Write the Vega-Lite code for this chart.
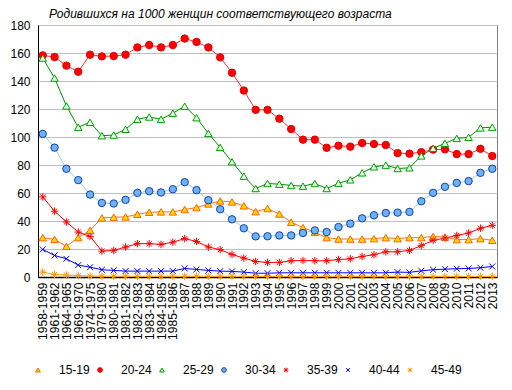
{
  "$schema": "https://vega.github.io/schema/vega-lite/v6.json",
  "width": 459,
  "height": 252,
  "autosize": {"type": "none"},
  "padding": {"left": 38, "top": 25, "right": 15, "bottom": 113},
  "background": "white",
  "title": {"text": "Родившихся на 1000 женщин соответствующего возраста", "anchor": "start", "frame": "group", "dx": 11, "offset": -2, "font": "Liberation Sans", "fontSize": 12, "fontStyle": "italic", "fontWeight": "normal", "color": "#000000"},
  "config": {
    "view": {"stroke": "#808080", "strokeWidth": 1},
    "font": "Liberation Sans",
    "axis": {"labelFont": "Liberation Sans", "labelColor": "#000000", "domainColor": "#000000", "ticks": false, "title": null},
    "legend": {"title": null, "orient": "none", "legendX": -6, "legendY": 339, "padding": 0, "direction": "horizontal", "columns": 7, "symbolSize": 22, "labelFontSize": 12, "labelFont": "Liberation Sans", "labelColor": "#000000", "labelOffset": 15, "columnPadding": 4, "symbolStrokeWidth": 1}
  },
  "datasets": {
    "rows": [
      {"period":"1958-1959","age":"15-19","value":28.1},{"period":"1961-1962","age":"15-19","value":26.9},{"period":"1964-1965","age":"15-19","value":21.9},{"period":"1969-1970","age":"15-19","value":28.1},{"period":"1974-1975","age":"15-19","value":33.3},{"period":"1979-1980","age":"15-19","value":42.2},{"period":"1980-1981","age":"15-19","value":42.7},{"period":"1981-1982","age":"15-19","value":42.9},{"period":"1982-1983","age":"15-19","value":44.8},{"period":"1983-1984","age":"15-19","value":46.2},{"period":"1984-1985","age":"15-19","value":46.5},{"period":"1985-1986","age":"15-19","value":46.5},{"period":"1987","age":"15-19","value":48.2},{"period":"1988","age":"15-19","value":49.6},{"period":"1989","age":"15-19","value":52.2},{"period":"1990","age":"15-19","value":54.3},{"period":"1991","age":"15-19","value":53.6},{"period":"1992","age":"15-19","value":50.8},{"period":"1993","age":"15-19","value":46.7},{"period":"1994","age":"15-19","value":48.9},{"period":"1995","age":"15-19","value":45.0},{"period":"1996","age":"15-19","value":39.1},{"period":"1997","age":"15-19","value":35.3},{"period":"1998","age":"15-19","value":32.0},{"period":"1999","age":"15-19","value":28.1},{"period":"2000","age":"15-19","value":27.1},{"period":"2001","age":"15-19","value":27.1},{"period":"2002","age":"15-19","value":27.1},{"period":"2003","age":"15-19","value":27.4},{"period":"2004","age":"15-19","value":28.1},{"period":"2005","age":"15-19","value":27.4},{"period":"2006","age":"15-19","value":28.1},{"period":"2007","age":"15-19","value":28.1},{"period":"2008","age":"15-19","value":29.0},{"period":"2009","age":"15-19","value":28.5},{"period":"2010","age":"15-19","value":26.7},{"period":"2011","age":"15-19","value":26.7},{"period":"2012","age":"15-19","value":27.4},{"period":"2013","age":"15-19","value":26.2},
      {"period":"1958-1959","age":"20-24","value":158.3},{"period":"1961-1962","age":"20-24","value":157.1},{"period":"1964-1965","age":"20-24","value":151.0},{"period":"1969-1970","age":"20-24","value":146.6},{"period":"1974-1975","age":"20-24","value":158.8},{"period":"1979-1980","age":"20-24","value":157.6},{"period":"1980-1981","age":"20-24","value":157.8},{"period":"1981-1982","age":"20-24","value":158.8},{"period":"1982-1983","age":"20-24","value":164.0},{"period":"1983-1984","age":"20-24","value":165.7},{"period":"1984-1985","age":"20-24","value":164.0},{"period":"1985-1986","age":"20-24","value":165.7},{"period":"1987","age":"20-24","value":170.3},{"period":"1988","age":"20-24","value":167.9},{"period":"1989","age":"20-24","value":164.0},{"period":"1990","age":"20-24","value":156.9},{"period":"1991","age":"20-24","value":145.9},{"period":"1992","age":"20-24","value":133.2},{"period":"1993","age":"20-24","value":119.4},{"period":"1994","age":"20-24","value":119.4},{"period":"1995","age":"20-24","value":113.1},{"period":"1996","age":"20-24","value":105.7},{"period":"1997","age":"20-24","value":98.1},{"period":"1998","age":"20-24","value":98.1},{"period":"1999","age":"20-24","value":92.3},{"period":"2000","age":"20-24","value":93.8},{"period":"2001","age":"20-24","value":93.1},{"period":"2002","age":"20-24","value":95.7},{"period":"2003","age":"20-24","value":95.0},{"period":"2004","age":"20-24","value":94.3},{"period":"2005","age":"20-24","value":88.5},{"period":"2006","age":"20-24","value":88.1},{"period":"2007","age":"20-24","value":89.2},{"period":"2008","age":"20-24","value":91.0},{"period":"2009","age":"20-24","value":91.2},{"period":"2010","age":"20-24","value":87.8},{"period":"2011","age":"20-24","value":87.8},{"period":"2012","age":"20-24","value":91.6},{"period":"2013","age":"20-24","value":86.4},
      {"period":"1958-1959","age":"25-29","value":156.4},{"period":"1961-1962","age":"25-29","value":142.1},{"period":"1964-1965","age":"25-29","value":122.2},{"period":"1969-1970","age":"25-29","value":107.0},{"period":"1974-1975","age":"25-29","value":110.5},{"period":"1979-1980","age":"25-29","value":100.9},{"period":"1980-1981","age":"25-29","value":101.4},{"period":"1981-1982","age":"25-29","value":105.5},{"period":"1982-1983","age":"25-29","value":112.7},{"period":"1983-1984","age":"25-29","value":114.3},{"period":"1984-1985","age":"25-29","value":112.7},{"period":"1985-1986","age":"25-29","value":117.0},{"period":"1987","age":"25-29","value":122.0},{"period":"1988","age":"25-29","value":113.8},{"period":"1989","age":"25-29","value":102.6},{"period":"1990","age":"25-29","value":92.6},{"period":"1991","age":"25-29","value":82.3},{"period":"1992","age":"25-29","value":72.0},{"period":"1993","age":"25-29","value":63.2},{"period":"1994","age":"25-29","value":66.8},{"period":"1995","age":"25-29","value":66.3},{"period":"1996","age":"25-29","value":65.4},{"period":"1997","age":"25-29","value":64.9},{"period":"1998","age":"25-29","value":66.8},{"period":"1999","age":"25-29","value":63.2},{"period":"2000","age":"25-29","value":67.0},{"period":"2001","age":"25-29","value":69.4},{"period":"2002","age":"25-29","value":74.4},{"period":"2003","age":"25-29","value":78.7},{"period":"2004","age":"25-29","value":79.9},{"period":"2005","age":"25-29","value":77.5},{"period":"2006","age":"25-29","value":78.0},{"period":"2007","age":"25-29","value":86.5},{"period":"2008","age":"25-29","value":91.9},{"period":"2009","age":"25-29","value":95.5},{"period":"2010","age":"25-29","value":99.0},{"period":"2011","age":"25-29","value":99.8},{"period":"2012","age":"25-29","value":106.5},{"period":"2013","age":"25-29","value":107.0},
      {"period":"1958-1959","age":"30-34","value":102.2},{"period":"1961-1962","age":"30-34","value":92.4},{"period":"1964-1965","age":"30-34","value":77.3},{"period":"1969-1970","age":"30-34","value":69.2},{"period":"1974-1975","age":"30-34","value":58.9},{"period":"1979-1980","age":"30-34","value":52.9},{"period":"1980-1981","age":"30-34","value":52.5},{"period":"1981-1982","age":"30-34","value":55.1},{"period":"1982-1983","age":"30-34","value":60.1},{"period":"1983-1984","age":"30-34","value":61.3},{"period":"1984-1985","age":"30-34","value":60.4},{"period":"1985-1986","age":"30-34","value":62.7},{"period":"1987","age":"30-34","value":67.7},{"period":"1988","age":"30-34","value":62.0},{"period":"1989","age":"30-34","value":54.8},{"period":"1990","age":"30-34","value":48.4},{"period":"1991","age":"30-34","value":41.2},{"period":"1992","age":"30-34","value":34.8},{"period":"1993","age":"30-34","value":29.0},{"period":"1994","age":"30-34","value":29.1},{"period":"1995","age":"30-34","value":29.7},{"period":"1996","age":"30-34","value":29.7},{"period":"1997","age":"30-34","value":31.4},{"period":"1998","age":"30-34","value":33.3},{"period":"1999","age":"30-34","value":32.1},{"period":"2000","age":"30-34","value":35.7},{"period":"2001","age":"30-34","value":38.1},{"period":"2002","age":"30-34","value":41.9},{"period":"2003","age":"30-34","value":44.1},{"period":"2004","age":"30-34","value":45.7},{"period":"2005","age":"30-34","value":46.0},{"period":"2006","age":"30-34","value":46.5},{"period":"2007","age":"30-34","value":54.1},{"period":"2008","age":"30-34","value":60.1},{"period":"2009","age":"30-34","value":64.4},{"period":"2010","age":"30-34","value":67.2},{"period":"2011","age":"30-34","value":68.5},{"period":"2012","age":"30-34","value":74.4},{"period":"2013","age":"30-34","value":77.3},
      {"period":"1958-1959","age":"35-39","value":57.2},{"period":"1961-1962","age":"35-39","value":47.0},{"period":"1964-1965","age":"35-39","value":39.3},{"period":"1969-1970","age":"35-39","value":32.1},{"period":"1974-1975","age":"35-39","value":29.0},{"period":"1979-1980","age":"35-39","value":18.5},{"period":"1980-1981","age":"35-39","value":19.0},{"period":"1981-1982","age":"35-39","value":21.4},{"period":"1982-1983","age":"35-39","value":23.8},{"period":"1983-1984","age":"35-39","value":23.8},{"period":"1984-1985","age":"35-39","value":23.3},{"period":"1985-1986","age":"35-39","value":24.9},{"period":"1987","age":"35-39","value":27.4},{"period":"1988","age":"35-39","value":25.4},{"period":"1989","age":"35-39","value":21.4},{"period":"1990","age":"35-39","value":19.5},{"period":"1991","age":"35-39","value":16.1},{"period":"1992","age":"35-39","value":13.5},{"period":"1993","age":"35-39","value":11.1},{"period":"1994","age":"35-39","value":10.4},{"period":"1995","age":"35-39","value":10.4},{"period":"1996","age":"35-39","value":11.6},{"period":"1997","age":"35-39","value":11.8},{"period":"1998","age":"35-39","value":11.6},{"period":"1999","age":"35-39","value":11.6},{"period":"2000","age":"35-39","value":12.5},{"period":"2001","age":"35-39","value":13.0},{"period":"2002","age":"35-39","value":14.7},{"period":"2003","age":"35-39","value":15.9},{"period":"2004","age":"35-39","value":18.0},{"period":"2005","age":"35-39","value":18.0},{"period":"2006","age":"35-39","value":19.0},{"period":"2007","age":"35-39","value":22.4},{"period":"2008","age":"35-39","value":26.2},{"period":"2009","age":"35-39","value":27.8},{"period":"2010","age":"35-39","value":29.7},{"period":"2011","age":"35-39","value":31.4},{"period":"2012","age":"35-39","value":34.8},{"period":"2013","age":"35-39","value":36.9},
      {"period":"1958-1959","age":"40-44","value":19.7},{"period":"1961-1962","age":"40-44","value":15.4},{"period":"1964-1965","age":"40-44","value":13.0},{"period":"1969-1970","age":"40-44","value":8.5},{"period":"1974-1975","age":"40-44","value":7.0},{"period":"1979-1980","age":"40-44","value":5.2},{"period":"1980-1981","age":"40-44","value":4.7},{"period":"1981-1982","age":"40-44","value":4.2},{"period":"1982-1983","age":"40-44","value":4.2},{"period":"1983-1984","age":"40-44","value":4.2},{"period":"1984-1985","age":"40-44","value":4.2},{"period":"1985-1986","age":"40-44","value":4.2},{"period":"1987","age":"40-44","value":6.1},{"period":"1988","age":"40-44","value":5.4},{"period":"1989","age":"40-44","value":4.7},{"period":"1990","age":"40-44","value":4.2},{"period":"1991","age":"40-44","value":4.0},{"period":"1992","age":"40-44","value":3.5},{"period":"1993","age":"40-44","value":2.7},{"period":"1994","age":"40-44","value":2.7},{"period":"1995","age":"40-44","value":3.0},{"period":"1996","age":"40-44","value":3.0},{"period":"1997","age":"40-44","value":3.0},{"period":"1998","age":"40-44","value":3.0},{"period":"1999","age":"40-44","value":3.0},{"period":"2000","age":"40-44","value":3.0},{"period":"2001","age":"40-44","value":3.0},{"period":"2002","age":"40-44","value":3.0},{"period":"2003","age":"40-44","value":3.0},{"period":"2004","age":"40-44","value":3.0},{"period":"2005","age":"40-44","value":3.5},{"period":"2006","age":"40-44","value":3.3},{"period":"2007","age":"40-44","value":4.4},{"period":"2008","age":"40-44","value":5.2},{"period":"2009","age":"40-44","value":5.6},{"period":"2010","age":"40-44","value":5.9},{"period":"2011","age":"40-44","value":6.1},{"period":"2012","age":"40-44","value":6.6},{"period":"2013","age":"40-44","value":7.5},
      {"period":"1958-1959","age":"45-49","value":3.5},{"period":"1961-1962","age":"45-49","value":1.8},{"period":"1964-1965","age":"45-49","value":1.4},{"period":"1969-1970","age":"45-49","value":1.0},{"period":"1974-1975","age":"45-49","value":0.7},{"period":"1979-1980","age":"45-49","value":0.5},{"period":"1980-1981","age":"45-49","value":0.5},{"period":"1981-1982","age":"45-49","value":0.5},{"period":"1982-1983","age":"45-49","value":0.5},{"period":"1983-1984","age":"45-49","value":0.5},{"period":"1984-1985","age":"45-49","value":0.5},{"period":"1985-1986","age":"45-49","value":0.5},{"period":"1987","age":"45-49","value":0.5},{"period":"1988","age":"45-49","value":0.5},{"period":"1989","age":"45-49","value":0.5},{"period":"1990","age":"45-49","value":0.5},{"period":"1991","age":"45-49","value":0.5},{"period":"1992","age":"45-49","value":0.4},{"period":"1993","age":"45-49","value":0.4},{"period":"1994","age":"45-49","value":0.4},{"period":"1995","age":"45-49","value":0.3},{"period":"1996","age":"45-49","value":0.3},{"period":"1997","age":"45-49","value":0.3},{"period":"1998","age":"45-49","value":0.3},{"period":"1999","age":"45-49","value":0.3},{"period":"2000","age":"45-49","value":0.3},{"period":"2001","age":"45-49","value":0.3},{"period":"2002","age":"45-49","value":0.3},{"period":"2003","age":"45-49","value":0.3},{"period":"2004","age":"45-49","value":0.3},{"period":"2005","age":"45-49","value":0.3},{"period":"2006","age":"45-49","value":0.3},{"period":"2007","age":"45-49","value":0.3},{"period":"2008","age":"45-49","value":0.3},{"period":"2009","age":"45-49","value":0.4},{"period":"2010","age":"45-49","value":0.4},{"period":"2011","age":"45-49","value":0.4},{"period":"2012","age":"45-49","value":0.4},{"period":"2013","age":"45-49","value":0.4}
    ]
  },
  "data": {"name": "rows"},
  "encoding": {
    "x": {"field": "period", "type": "ordinal", "sort": null, "scale": {"type": "point", "padding": 0.4},
      "axis": {"labelAngle": -90, "labelFontSize": 12, "labelPadding": 5, "grid": false, "domainWidth": 1.5}},
    "y": {"field": "value", "type": "quantitative", "scale": {"domain": [0, 180], "nice": false},
      "axis": {"values": [0,20,40,60,80,100,120,140,160,180], "labelFontSize": 12, "labelPadding": 8, "grid": true, "gridColor": "#BFBFBF", "domainWidth": 1}}
  },
  "layer": [
    {
      "mark": {"type": "line", "strokeWidth": 1},
      "encoding": {
        "color": {"field": "age", "type": "nominal", "legend": null, "sort": "ascending",
          "scale": {"range": ["#FF7020","#FF3030","#009000","#99CCFF","#FF0000","#0000FF","#FFA020"]}}
      }
    },
    {
      "mark": {"type": "point", "filled": false, "strokeWidth": 1, "opacity": 1, "size": 55},
      "encoding": {
        "stroke": {"field": "age", "type": "nominal",
          "scale": {"domain": ["15-19","20-24","25-29","30-34","35-39","40-44","45-49"],
                    "range": ["#FF6600","#E00000","#00A000","#1A3FA8","#FF0000","#0000FF","#FF9900"]}},
        "fill": {"field": "age", "type": "nominal",
          "scale": {"domain": ["15-19","20-24","25-29","30-34","35-39","40-44","45-49"],
                    "range": ["#FFD700","#FF0000","#E6FFE6","#6AB4F5","transparent","transparent","transparent"]}},
        "shape": {"field": "age", "type": "nominal",
          "scale": {"domain": ["15-19","20-24","25-29","30-34","35-39","40-44","45-49"],
                    "range": ["triangle-up","circle","triangle-up","circle","M-1,0L1,0M0,-1L0,1M-0.7,-0.7L0.7,0.7M-0.7,0.7L0.7,-0.7","M-0.8,-0.8L0.8,0.8M-0.8,0.8L0.8,-0.8","M-1,0L1,0M0,-1L0,1M-0.7,-0.7L0.7,0.7M-0.7,0.7L0.7,-0.7"]}}
      }
    }
  ]
}
